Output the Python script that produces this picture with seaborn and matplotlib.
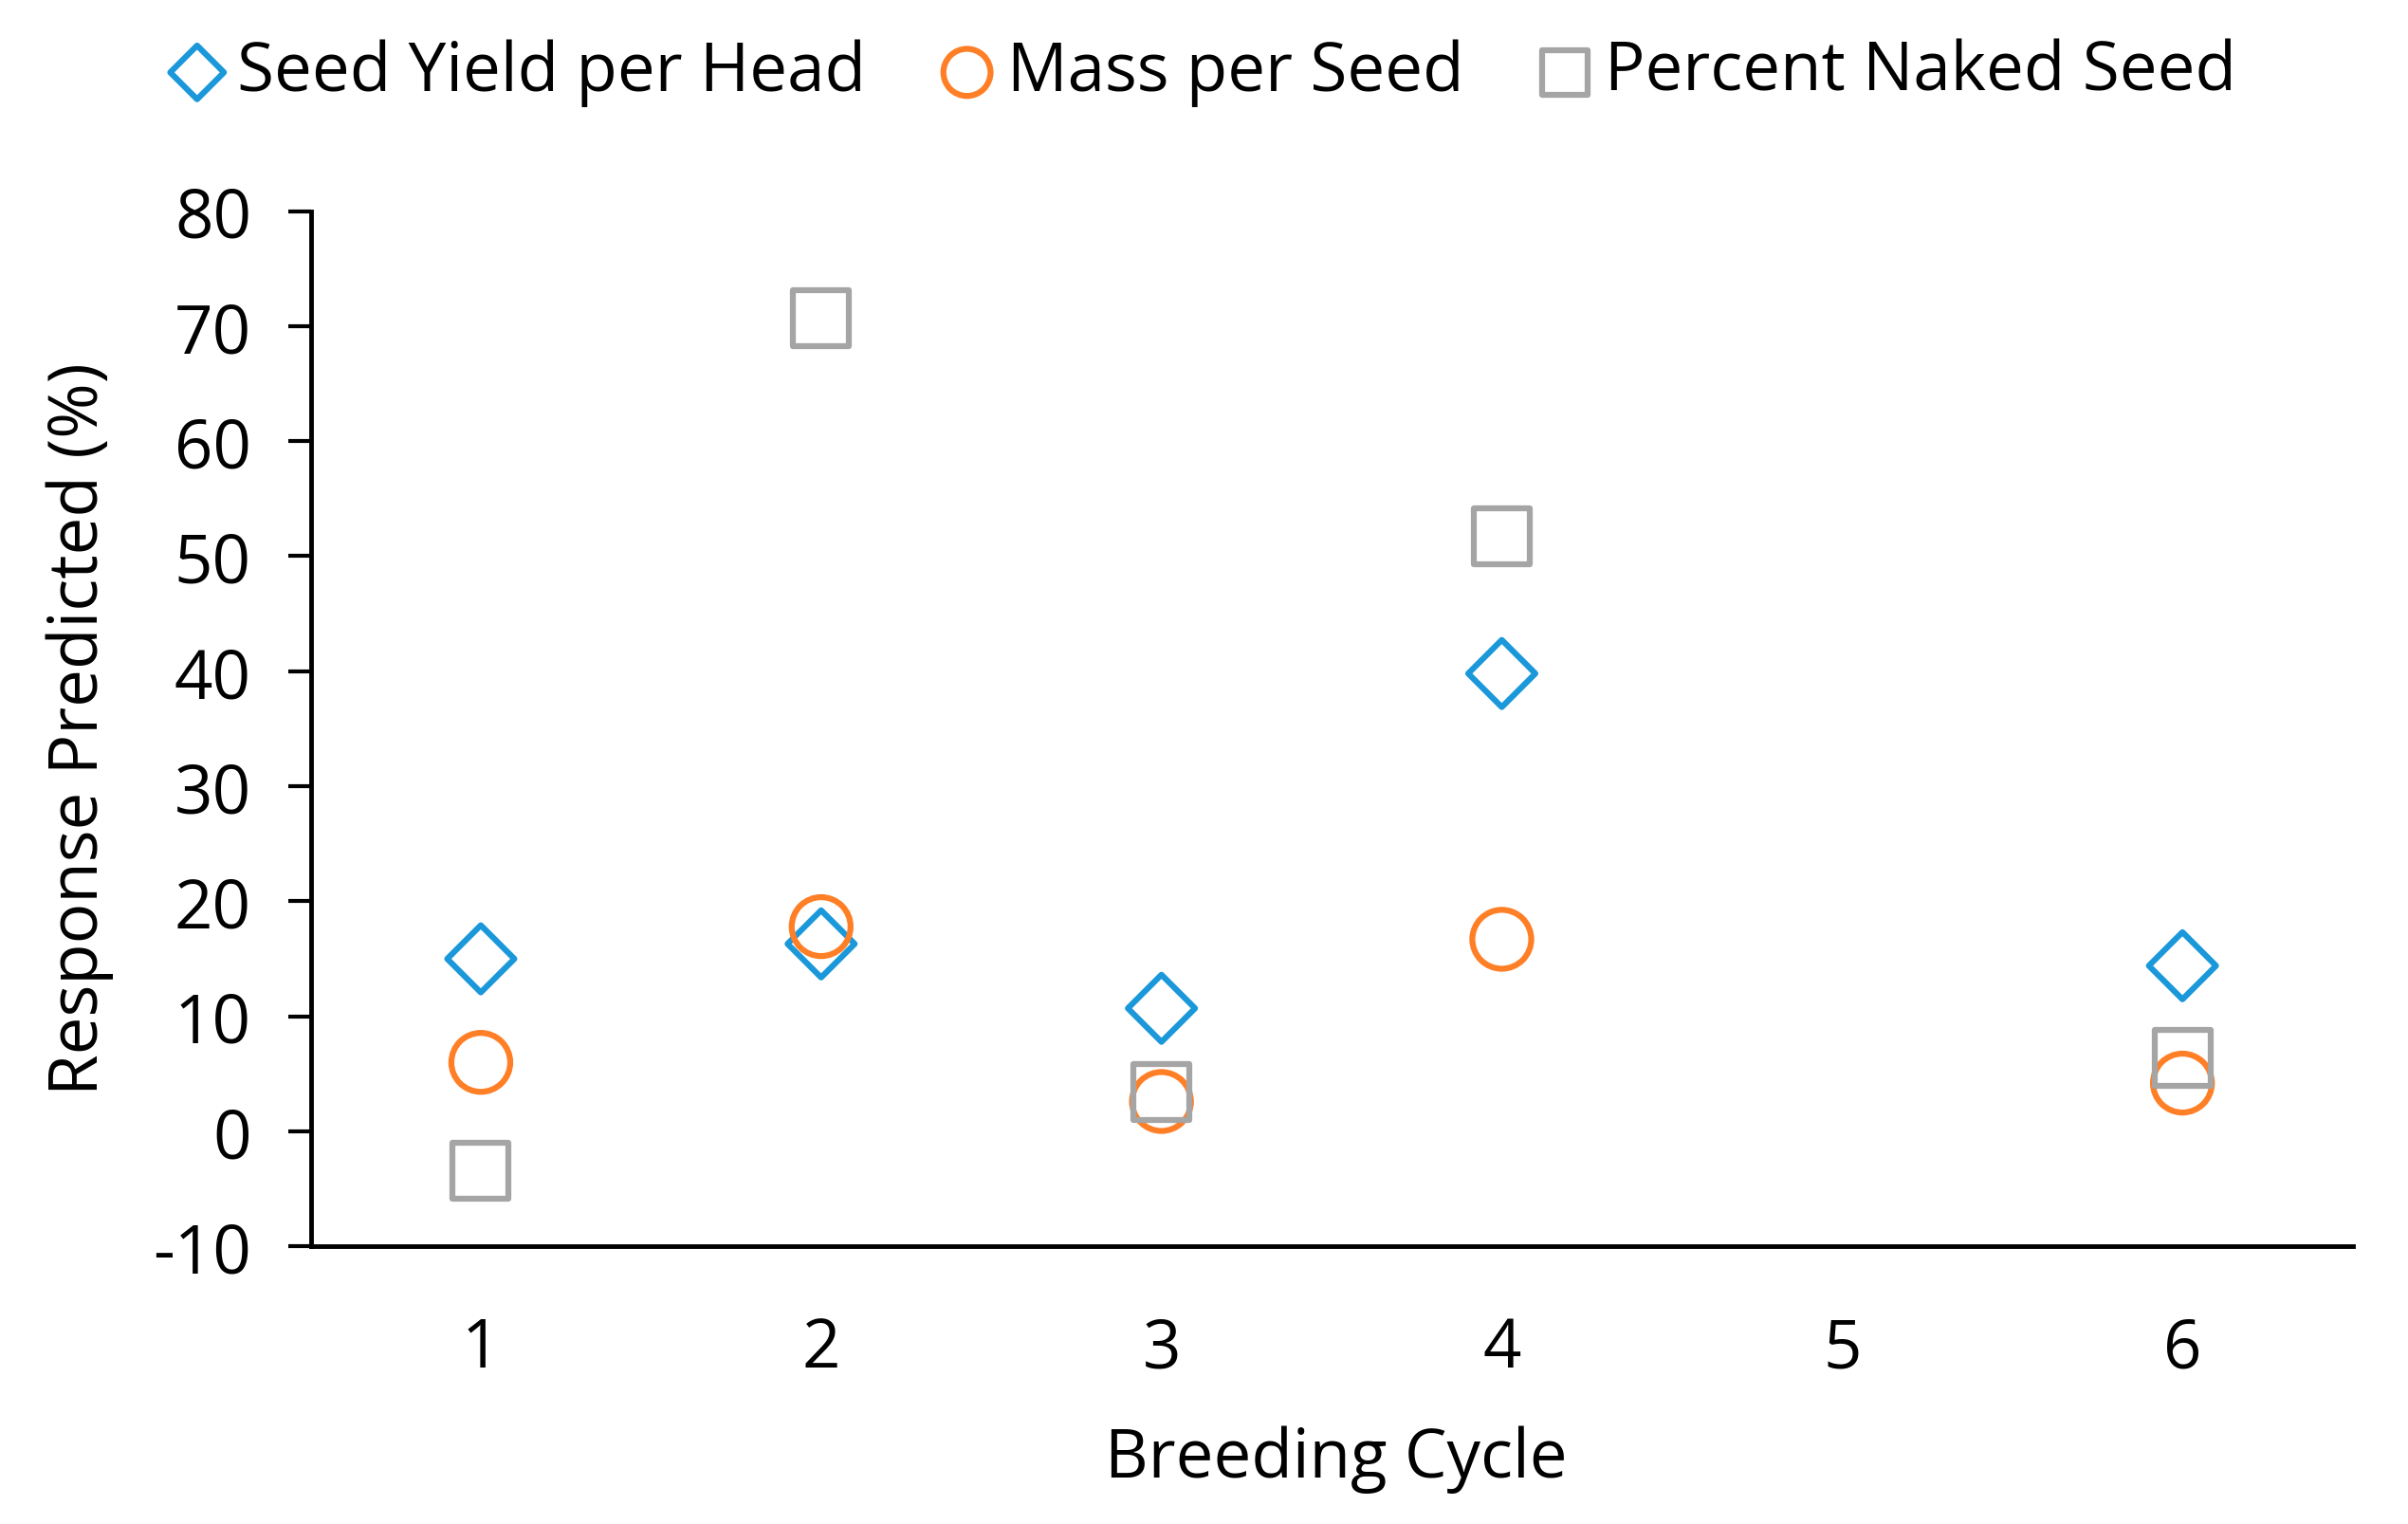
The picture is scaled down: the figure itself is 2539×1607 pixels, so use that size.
import pandas as pd
import matplotlib
matplotlib.use("Agg")
import matplotlib.pyplot as plt
import seaborn as sns

# Values
CYCLES = [1, 2, 3, 4, 6]
SEED_YIELD = [15.0, 16.3, 10.7, 39.8, 14.4]
MASS_PER_SEED = [6.0, 17.8, 2.6, 16.7, 4.2]
PCT_NAKED = [-3.4, 70.7, 3.4, 51.7, 6.4]

SERIES = ["Seed Yield per Head", "Mass per Seed", "Percent Naked Seed"]
COLORS = ["#1B98DA", "#FF7F27", "#A5A5A5"]
MARKERS = ["D", "o", "s"]
SIZES = [1300, 2000, 1800]

X_TICKS = [1, 2, 3, 4, 5, 6]
Y_TICKS = list(range(-10, 90, 10))

FS = 51

sns.set_theme(style="white")
plt.rcParams["font.family"] = ["Open Sans", "DejaVu Sans"]
plt.rcParams["text.color"] = "black"
plt.rcParams["axes.labelcolor"] = "black"
plt.rcParams["xtick.color"] = "black"
plt.rcParams["ytick.color"] = "black"
plt.rcParams["axes.unicode_minus"] = False

df = pd.DataFrame({
    "cycle": CYCLES * 3,
    "value": SEED_YIELD + MASS_PER_SEED + PCT_NAKED,
    "series": [s for s in SERIES for _ in CYCLES],
})

fig = plt.figure(figsize=(25.39, 16.08), dpi=100)
ax = fig.add_axes([0.129, 0.182, 0.848, 0.679])

for name, color, marker, size in zip(SERIES, COLORS, MARKERS, SIZES):
    sub = df[df["series"] == name]
    sns.scatterplot(
        data=sub, x="cycle", y="value", ax=ax,
        marker=marker, s=size, color=color,
        facecolors="none", edgecolor=color, linewidth=4.5,
        label=name, zorder=3,
    )

ax.set_xlim(0.5, 6.5)
ax.set_ylim(-10, 80)
ax.set_xticks(X_TICKS)
ax.set_yticks(Y_TICKS)
ax.tick_params(axis="x", length=0, labelsize=FS, pad=52)
ax.tick_params(axis="y", length=17, width=3, direction="out",
               labelsize=FS, pad=28, left=True)

for side in ["top", "right"]:
    ax.spines[side].set_visible(False)
for side in ["left", "bottom"]:
    ax.spines[side].set_color("black")
    ax.spines[side].set_linewidth(3.5)

ax.set_xlabel("")
ax.set_ylabel("")
fig.text(0.555, 0.043, "Breeding Cycle", ha="center", va="center", fontsize=FS)
fig.text(0.033, 0.522, "Response Predicted (%)", ha="center", va="center",
         rotation=90, fontsize=FS)

ax.legend_.remove()
handles, labels = ax.get_legend_handles_labels()
fig.legend(handles, labels, loc="center", bbox_to_anchor=(0.497, 0.952),
           ncol=3, frameon=False, fontsize=FS, markerscale=0.8,
           handletextpad=0.0, columnspacing=0.9, handlelength=1.2)

fig.savefig("out.png", dpi=100)
